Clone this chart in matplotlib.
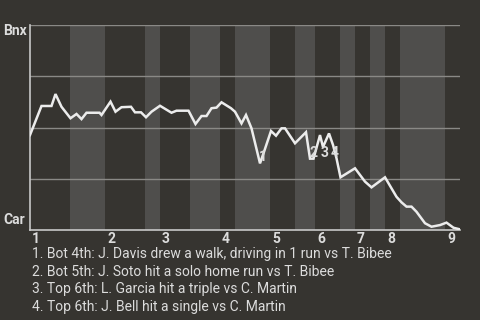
import matplotlib
matplotlib.use("Agg")
import matplotlib.pyplot as plt
import matplotlib.transforms as mtransforms

plt.rcParams['font.family'] = ['Roboto', 'DejaVu Sans']

# win probability (Bnx, %) by play number
plays = [0, 2.3, 4.3, 5.1, 6.3, 8.1, 9.3, 10.3, 11.3, 13.9, 14.3, 16.1, 17.1, 18.3,
         20.2, 21, 22.2, 23.2, 24.3, 26, 28.3, 29.3, 31.7, 33.1, 34.3, 35.3, 36.3,
         37.3, 38.3, 40.2, 41, 42.3, 43.2, 44.3, 46, 46.7, 48.2, 49.2, 50.3, 51, 53,
         55.2, 56, 56.7, 58, 58.6, 59.8, 60.6, 61.3, 62.1, 65, 67, 68.3, 71, 73.3,
         74.3, 75.3, 76.3, 77.3, 79, 80.3, 82, 83.3, 84.7, 86]
win_prob = [46.3, 60.5, 60.5, 66.3, 60.1, 54.5, 56.6, 54.1, 57.2, 57.2, 56.1, 62.6,
            57.7, 59.9, 60.1, 57.4, 57.4, 55.0, 57.7, 60.6, 57.2, 58.2, 58.2, 51.7,
            55.6, 55.6, 59.4, 59.7, 62.3, 59.4, 57.7, 52.0, 56.1, 49.6, 32.5, 37.4,
            48.3, 46.0, 49.6, 49.6, 42.3, 47.7, 34.8, 34.8, 46.3, 40.5, 47.1, 41.5,
            35.0, 25.7, 30.1, 23.6, 20.8, 25.7, 16.2, 13.5, 11.4, 11.4, 8.9, 3.3,
            1.6, 2.4, 3.6, 1.1, 0.3]

# half-inning boundaries (play numbers); bottom halves are shaded
half_starts = [0, 8, 15, 23, 26, 32, 38, 41, 48, 53, 57, 62, 65, 68, 71, 74, 83, 86]
inning_labels = ['1', '2', '3', '4', '5', '6', '7', '8', '9']

# key plays
key_x = [46.6, 56.8, 59, 61]
key_y = [35.6, 37.6, 37.6, 37.6]
key_text = [
    "1. Bot 4th: J. Davis drew a walk, driving in 1 run vs T. Bibee",
    "2. Bot 5th: J. Soto hit a solo home run vs T. Bibee",
    "3. Top 6th: L. Garcia hit a triple vs C. Martin",
    "4. Top 6th: J. Bell hit a single vs C. Martin",
]

bg = '#363430'
band = '#4f4e4c'
grid = '#8a8986'
txt = '#dcdcdc'

fig = plt.figure(figsize=(4.8, 3.2), dpi=100, facecolor=bg)
ax = fig.add_axes([30/480, 1-230/320, 430/480, 205/320], facecolor=bg)

for i in range(1, len(half_starts)-1, 2):
    ax.axvspan(half_starts[i], half_starts[i+1], color=band, lw=0, zorder=0)

for g in [25, 50, 75, 100]:
    ax.axhline(g, color=grid, lw=1, zorder=1)

ax.plot(plays, win_prob, color='#ececec', lw=1.8, zorder=3, solid_joinstyle='miter')

for n, (x, y) in enumerate(zip(key_x, key_y)):
    ax.text(x, y, str(n+1), color=txt, fontsize=10, fontweight='bold',
            ha='center', va='center', zorder=4)

ax.set_xlim(0, 86)
ax.set_ylim(0, 100)
ax.set_xticks([])
ax.set_yticks([])
for s in ['top', 'right']:
    ax.spines[s].set_visible(False)
for s in ['left', 'bottom']:
    ax.spines[s].set_color('#c8c8c8')
    ax.spines[s].set_linewidth(1.2)

trans = mtransforms.blended_transform_factory(ax.transData, ax.transAxes)
trans = trans + mtransforms.ScaledTranslation(2/100, -2/100, fig.dpi_scale_trans)
for lab, start in zip(inning_labels, half_starts[0::2]):
    ax.text(start, 0, lab, transform=trans, color=txt, fontsize=10,
            fontweight='bold', ha='left', va='top')

fig.text(3/480, 1-31/320, 'Bnx', color=txt, fontsize=10, fontweight='bold',
         ha='left', va='center')
fig.text(3/480, 1-220/320, 'Car', color=txt, fontsize=10, fontweight='bold',
         ha='left', va='center')

baselines = [258, 275.7, 293.3, 311]
for line, yb in zip(key_text, baselines):
    fig.text(32/480, 1-yb/320, line, color=txt, fontsize=10,
             ha='left', va='baseline')

fig.savefig('out.png', dpi=100, facecolor=bg)
